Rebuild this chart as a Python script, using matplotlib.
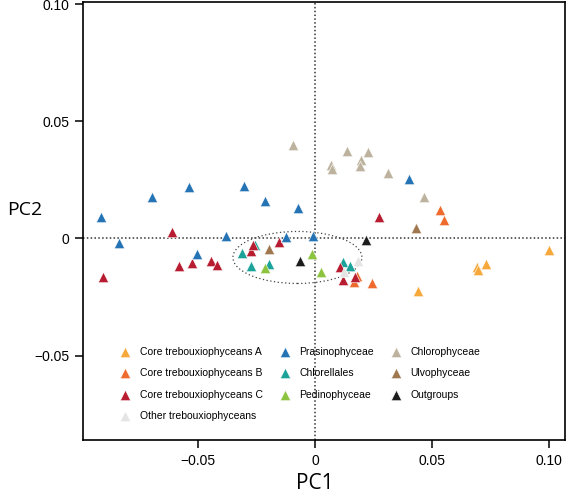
import numpy as np
import matplotlib.pyplot as plt
from matplotlib.patches import Ellipse

plt.rcParams['font.family'] = ['Liberation Sans', 'DejaVu Sans']

# PC1 / PC2 coordinates, one pair of lists per group
core_a_x = [0.1000, 0.0691, 0.0698, 0.0731, 0.0442]
core_a_y = [-0.0048, -0.0123, -0.0134, -0.0111, -0.0225]

core_b_x = [0.0534, 0.0551, 0.0245, 0.0167, 0.0178]
core_b_y = [0.0120, 0.0077, -0.0191, -0.0187, -0.0162]

core_c_x = [-0.0907, -0.0611, -0.0580, -0.0526, -0.0446, -0.0420, -0.0275, -0.0264,
            -0.0153, 0.0274, 0.0107, 0.0121, 0.0171]
core_c_y = [-0.0165, 0.0027, -0.0118, -0.0104, -0.0094, -0.0115, -0.0054, -0.0026,
            -0.0016, 0.0091, -0.0120, -0.0179, -0.0165]

other_x = [0.0185, 0.0124]
other_y = [-0.0098, -0.0141]

prasino_x = [-0.0915, -0.0838, -0.0695, -0.0538, -0.0506, -0.0382, -0.0303, -0.0214,
             -0.0125, -0.0074, -0.0007, 0.0402]
prasino_y = [0.0091, -0.0018, 0.0177, 0.0221, -0.0065, 0.0011, 0.0226, 0.0158,
             0.0006, 0.0131, 0.0010, 0.0255]

chlorellales_x = [-0.0311, -0.0274, -0.0198, -0.0256, 0.0118, 0.0150]
chlorellales_y = [-0.0061, -0.0118, -0.0108, -0.0027, -0.0101, -0.0118]

pedino_x = [-0.0212, -0.0012, 0.0026]
pedino_y = [-0.0127, -0.0065, -0.0141]

chloro_x = [-0.0095, 0.0068, 0.0074, 0.0138, 0.0195, 0.0191, 0.0226, 0.0311, 0.0467]
chloro_y = [0.0397, 0.0315, 0.0298, 0.0373, 0.0333, 0.0308, 0.0369, 0.0279, 0.0179]

ulvo_x = [0.0433, -0.0195]
ulvo_y = [0.0044, -0.0044]

outgroup_x = [0.0219, -0.0064]
outgroup_y = [-0.0006, -0.0097]

groups = [
    ("Core trebouxiophyceans A", core_a_x, core_a_y, "#F6A83B", 3),
    ("Core trebouxiophyceans B", core_b_x, core_b_y, "#EE6B2D", 3),
    ("Core trebouxiophyceans C", core_c_x, core_c_y, "#B71C30", 3),
    ("Other trebouxiophyceans", other_x, other_y, "#E4E4E4", 4),
    ("Prasinophyceae", prasino_x, prasino_y, "#2474B5", 3),
    ("Chlorellales", chlorellales_x, chlorellales_y, "#1BA39A", 2),
    ("Pedinophyceae", pedino_x, pedino_y, "#8CC43F", 3),
    ("Chlorophyceae", chloro_x, chloro_y, "#BDB29D", 3),
    ("Ulvophyceae", ulvo_x, ulvo_y, "#A07850", 3),
    ("Outgroups", outgroup_x, outgroup_y, "#1C1C1C", 3),
]

xticks = [-0.05, 0, 0.05, 0.10]
xticklabels = ["\u22120.05", "0", "0.05", "0.10"]
yticks = [-0.05, 0, 0.05, 0.10]
yticklabels = ["\u22120.05", "0", "0.05", "0.10"]

fig = plt.figure(figsize=(5.68, 4.95), dpi=100)
ax = fig.add_axes([0.1461, 0.1111, 0.8486, 0.8848])

for name, xs, ys, col, z in groups:
    ax.scatter(xs, ys, marker="^", s=56, c=col, edgecolors="white",
               linewidths=0.4, label=name, zorder=z)

ax.axhline(0, color="#333333", ls=(0, (1, 1.5)), lw=1.1, zorder=1)
ax.axvline(0, color="#333333", ls=(0, (1, 1.5)), lw=1.1, zorder=1)

ell = Ellipse((-0.0075, -0.0081), 0.0551, 0.0222, fill=False,
              ec="#444444", ls=(0, (1, 2)), lw=0.9, zorder=1)
ax.add_patch(ell)

ax.set_xlim(-0.0991, 0.1068)
ax.set_ylim(-0.086, 0.1009)
ax.set_xticks(xticks)
ax.set_xticklabels(xticklabels)
ax.set_yticks(yticks)
ax.set_yticklabels(yticklabels)
ax.tick_params(direction="out", length=6, width=1.1, labelsize=10, pad=4)
for sp in ax.spines.values():
    sp.set_linewidth(1.2)

ax.set_xlabel("PC1", fontsize=15, family=["Open Sans", "DejaVu Sans"])
ax.xaxis.set_label_coords(0.481, -0.10)
ax.xaxis.label.set_va("center")
ax.set_ylabel("PC2", fontsize=14, family=["Open Sans", "DejaVu Sans"], rotation=0,
              va="center", ha="center")
ax.yaxis.set_label_coords(-0.12, 0.525)

ax.legend(loc="upper left", bbox_to_anchor=(0.055, 0.225), ncol=3, frameon=False,
          fontsize=7.5, scatterpoints=1, handletextpad=0.4, columnspacing=1.1,
          labelspacing=1.1, borderpad=0)

fig.savefig("out.png", dpi=100)
